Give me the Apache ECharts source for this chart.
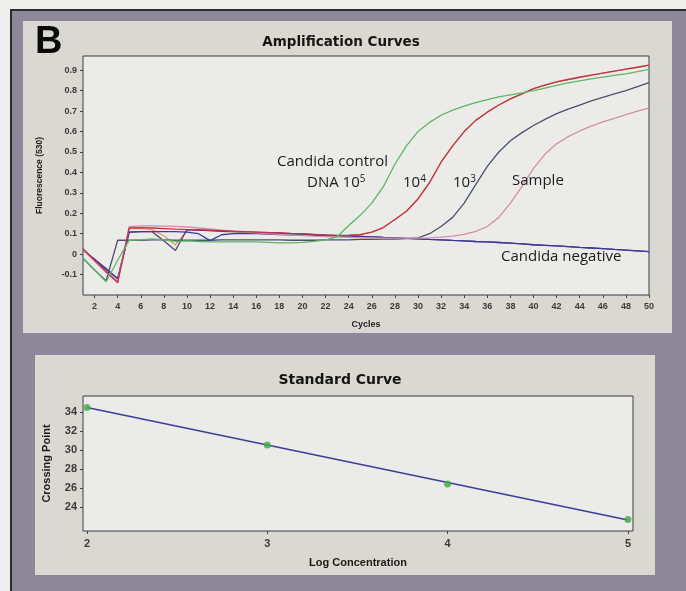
<!DOCTYPE html>
<html>
<head>
<meta charset="utf-8">
<script src="https://cdn.jsdelivr.net/npm/echarts@6/dist/echarts.min.js"></script>
<style>
  html, body { margin: 0; padding: 0; background: #efefed; }
  #main { width: 686px; height: 591px; }
</style>
</head>
<body>
<div id="main"></div>
<script>
// amplification curves: fluorescence per cycle
var cycles = [1, 2, 3, 4, 5, 6, 7, 8, 9, 10, 11, 12, 13, 14, 15, 16, 17, 18, 19, 20,
    21, 22, 23, 24, 25, 26, 27, 28, 29, 30, 31, 32, 33, 34, 35, 36, 37, 38, 39, 40,
    41, 42, 43, 44, 45, 46, 47, 48, 49, 50];

var dna1e5 = [-0.02, -0.078, -0.135, -0.03, 0.068, 0.07, 0.075, 0.07, 0.062, 0.065,
    0.062, 0.06, 0.06, 0.06, 0.06, 0.06, 0.058, 0.055, 0.055, 0.058,
    0.063, 0.07, 0.085, 0.14, 0.19, 0.25, 0.33, 0.44, 0.53, 0.6,
    0.645, 0.68, 0.705, 0.725, 0.742, 0.757, 0.77, 0.78, 0.79, 0.8,
    0.813, 0.826, 0.838, 0.848, 0.858, 0.867, 0.875, 0.883, 0.893, 0.905];

var dna1e4 = [0.026, -0.03, -0.085, -0.14, 0.128, 0.13, 0.128, 0.125, 0.122, 0.12,
    0.12, 0.118, 0.115, 0.112, 0.11, 0.108, 0.106, 0.105, 0.102, 0.1,
    0.097, 0.094, 0.092, 0.093, 0.095, 0.108, 0.13, 0.17, 0.21, 0.27,
    0.35, 0.45, 0.53, 0.6, 0.655, 0.695, 0.73, 0.76, 0.785, 0.81,
    0.828, 0.843, 0.855, 0.866, 0.876, 0.886, 0.896, 0.906, 0.915, 0.925];

var dna1e4b = [0.024, -0.03, -0.085, -0.135, 0.125, 0.125, 0.12, 0.09, 0.045, 0.115,
    0.118, 0.115, 0.112, 0.11, 0.108, 0.106, 0.104, 0.102, 0.1, 0.098,
    0.095, 0.092, 0.09, 0.09, 0.095, 0.108, 0.13, 0.17, 0.21, 0.27,
    0.35, 0.45, 0.53, 0.6, 0.655, 0.695, 0.73, 0.76, 0.785, 0.81,
    0.828, 0.843, 0.855, 0.866, 0.876, 0.886, 0.896, 0.906, 0.915, 0.925];

var dna1e3 = [-0.02, -0.078, -0.13, 0.068, 0.068, 0.068, 0.07, 0.07, 0.068, 0.068,
    0.068, 0.068, 0.07, 0.07, 0.07, 0.07, 0.07, 0.07, 0.068, 0.068,
    0.068, 0.07, 0.07, 0.07, 0.072, 0.072, 0.074, 0.074, 0.076, 0.08,
    0.1, 0.135, 0.18, 0.25, 0.34, 0.43, 0.5, 0.555, 0.595, 0.63,
    0.66, 0.688, 0.71, 0.73, 0.75, 0.768, 0.784, 0.8, 0.82, 0.84];

var sample = [0.022, -0.035, -0.09, -0.135, 0.135, 0.138, 0.138, 0.137, 0.136, 0.133,
    0.128, 0.123, 0.118, 0.113, 0.108, 0.104, 0.1, 0.097, 0.094, 0.091,
    0.088, 0.086, 0.084, 0.082, 0.08, 0.079, 0.078, 0.078, 0.078, 0.078,
    0.08, 0.083, 0.088, 0.097, 0.112, 0.135, 0.18, 0.25, 0.33, 0.42,
    0.49, 0.54, 0.575, 0.603, 0.627, 0.647, 0.665, 0.683, 0.7, 0.715];

var negative = [0.02, -0.025, -0.07, -0.12, 0.108, 0.11, 0.11, 0.11, 0.11, 0.108,
    0.1, 0.066, 0.095, 0.1, 0.1, 0.1, 0.098, 0.096, 0.095, 0.094,
    0.092, 0.09, 0.09, 0.089, 0.087, 0.085, 0.082, 0.08, 0.077, 0.075,
    0.072, 0.07, 0.067, 0.065, 0.062, 0.06, 0.057, 0.054, 0.05, 0.046,
    0.043, 0.04, 0.037, 0.033, 0.03, 0.027, 0.023, 0.02, 0.016, 0.012];

var negativeB = [0.02, -0.025, -0.075, -0.12, 0.108, 0.11, 0.11, 0.065, 0.018, 0.12,
    0.118, 0.115, 0.112, 0.11, 0.108, 0.106, 0.104, 0.102, 0.1, 0.098,
    0.095, 0.093, 0.09, 0.089, 0.087, 0.085, 0.082, 0.08, 0.077, 0.075,
    0.072, 0.07, 0.067, 0.065, 0.062, 0.06, 0.057, 0.054, 0.05, 0.046,
    0.043, 0.04, 0.037, 0.033, 0.03, 0.027, 0.023, 0.02, 0.016, 0.012];

var ampTicks = [-0.1, 0, 0.1, 0.2, 0.3, 0.4, 0.5, 0.6, 0.7, 0.8, 0.9];

// standard curve
var logConc = [2, 3, 4, 5];
var crossingPoint = [34.5, 30.55, 26.45, 22.7];
var fitLine = [[2, 34.5], [5, 22.65]];
var logTicks = [2, 3, 4, 5];
var cpTicks = [24, 26, 28, 30, 32, 34];

var labelFont = 'Liberation Sans';
var textFont = 'Open Sans';

var oChart = echarts.init(document.getElementById('main'));

function ampSeries(name, data, color) {
    return {
        name: name,
        type: 'line',
        xAxisIndex: 0,
        yAxisIndex: 0,
        data: data,
        showSymbol: false,
        symbol: 'none',
        lineStyle: { color: color, width: 1.3 },
        animation: false
    };
}

function note(text, x, y) {
    return {
        type: 'text',
        z: 100,
        x: x,
        y: y,
        style: {
            text: text,
            fill: '#1c1c1c',
            verticalAlign: 'middle',
            font: '15px "' + textFont + '"',
            rich: {
                n: { fontSize: 15, fontFamily: textFont, fill: '#1c1c1c' },
                s: { fontSize: 10, fontFamily: textFont, fill: '#1c1c1c', padding: [0, 0, 8, 0] }
            }
        }
    };
}

var option = {
    backgroundColor: '#efefed',
    animation: false,
    title: [{
        text: 'Amplification Curves',
        left: 341,
        top: 35,
        padding: 0,
        textAlign: 'center',
        textStyle: { fontFamily: 'DejaVu Sans', fontWeight: 'bold', fontSize: 13.5, color: '#151515' }
    }, {
        text: 'Standard Curve',
        left: 340,
        top: 373,
        padding: 0,
        textAlign: 'center',
        textStyle: { fontFamily: 'DejaVu Sans', fontWeight: 'bold', fontSize: 14, color: '#151515' }
    }],
    graphic: [
        { type: 'rect', z: -20, shape: { x: 11, y: 10, width: 690, height: 600 },
          style: { fill: '#8d8899', stroke: '#2b2b2b', lineWidth: 2 } },
        { type: 'rect', z: -10, shape: { x: 23, y: 21, width: 649, height: 312 }, style: { fill: '#d9d9d1' } },
        { type: 'rect', z: -10, shape: { x: 35, y: 355, width: 620, height: 220 }, style: { fill: '#d9d9d1' } },
        { type: 'text', z: 100, x: 35, y: 43,
          style: { text: 'B', fill: '#0a0a0a', verticalAlign: 'middle', font: 'bold 38px "Liberation Sans"' } },
        note('{n|Candida control}', 277, 162),
        note('{n|DNA 10}{s|5}', 307, 183),
        note('{n|10}{s|4}', 403, 183),
        note('{n|10}{s|3}', 453, 183),
        note('{n|Sample}', 512, 181),
        note('{n|Candida negative}', 501, 257)
    ],
    grid: [{
        left: 83, top: 56, width: 566, height: 239,
        show: true, backgroundColor: '#ebebe8', borderColor: '#3c3c4c', borderWidth: 1
    }, {
        left: 83, top: 396, width: 550, height: 135,
        show: true, backgroundColor: '#ebebe8', borderColor: '#3c3c4c', borderWidth: 1
    }],
    xAxis: [{
        gridIndex: 0,
        type: 'category',
        data: cycles,
        boundaryGap: false,
        name: 'Cycles',
        nameLocation: 'middle',
        nameGap: 25,
        nameTextStyle: { fontFamily: labelFont, fontWeight: 'bold', fontSize: 9, color: '#222' },
        axisLine: { show: false, onZero: false },
        axisTick: {
            show: true, length: 3, lineStyle: { color: '#444' },
            interval: function (idx, val) { return val % 2 === 0; }
        },
        axisLabel: {
            margin: 7, fontFamily: labelFont, fontSize: 9, fontWeight: 'bold', color: '#3a3a3a',
            interval: function (idx, val) { return val % 2 === 0; }
        },
        splitLine: { show: false }
    }, {
        gridIndex: 1,
        type: 'value',
        min: 1.978,
        max: 5.028,
        name: 'Log Concentration',
        nameLocation: 'middle',
        nameGap: 26,
        nameTextStyle: { fontFamily: labelFont, fontWeight: 'bold', fontSize: 11, color: '#1a1a1a' },
        axisLine: { show: false, onZero: false },
        axisTick: { show: true, length: 3, customValues: logTicks, lineStyle: { color: '#444' } },
        axisLabel: { margin: 7, customValues: logTicks, fontFamily: labelFont, fontSize: 11, fontWeight: 'bold', color: '#3a3a3a' },
        splitLine: { show: false }
    }],
    yAxis: [{
        gridIndex: 0,
        type: 'value',
        min: -0.2,
        max: 0.97,
        name: 'Fluorescence (530)',
        nameLocation: 'middle',
        nameGap: 39,
        nameTextStyle: { fontFamily: labelFont, fontWeight: 'bold', fontSize: 8.5, color: '#1a1a1a' },
        axisLine: { show: false, onZero: false },
        axisTick: { show: true, length: 3, customValues: ampTicks, lineStyle: { color: '#444' } },
        axisLabel: {
            margin: 6, customValues: ampTicks, fontFamily: labelFont, fontSize: 9, fontWeight: 'bold', color: '#3a3a3a',
            formatter: function (v) { return v === 0 ? '0' : v.toFixed(1); }
        },
        splitLine: { show: false }
    }, {
        gridIndex: 1,
        type: 'value',
        min: 21.5,
        max: 35.7,
        name: 'Crossing Point',
        nameLocation: 'middle',
        nameGap: 31,
        nameTextStyle: { fontFamily: labelFont, fontWeight: 'bold', fontSize: 11, color: '#1a1a1a' },
        axisLine: { show: false, onZero: false },
        axisTick: { show: true, length: 3, customValues: cpTicks, lineStyle: { color: '#444' } },
        axisLabel: { margin: 6, customValues: cpTicks, fontFamily: labelFont, fontSize: 11, fontWeight: 'bold', color: '#3a3a3a' },
        splitLine: { show: false }
    }],
    series: [
        ampSeries('10^4 b', dna1e4b, '#d9a154'),
        ampSeries('negative b', negativeB, '#5b3d78'),
        ampSeries('10^3', dna1e3, '#4c5170'),
        ampSeries('Candida negative', negative, '#3a3aa6'),
        ampSeries('Sample', sample, '#d48daa'),
        ampSeries('10^4', dna1e4, '#c4304e'),
        ampSeries('10^5', dna1e5, '#5cb862'),
        {
            name: 'fit',
            type: 'line',
            xAxisIndex: 1,
            yAxisIndex: 1,
            data: fitLine,
            showSymbol: false,
            symbol: 'none',
            lineStyle: { color: '#3d3d9c', width: 1.6 }
        },
        {
            name: 'standards',
            type: 'scatter',
            xAxisIndex: 1,
            yAxisIndex: 1,
            data: logConc.map(function (x, i) { return [x, crossingPoint[i]]; }),
            symbol: 'circle',
            symbolSize: 7,
            itemStyle: { color: '#3fae3f' },
            z: 5
        }
    ]
};

oChart.setOption(option);
</script>
</body>
</html>
